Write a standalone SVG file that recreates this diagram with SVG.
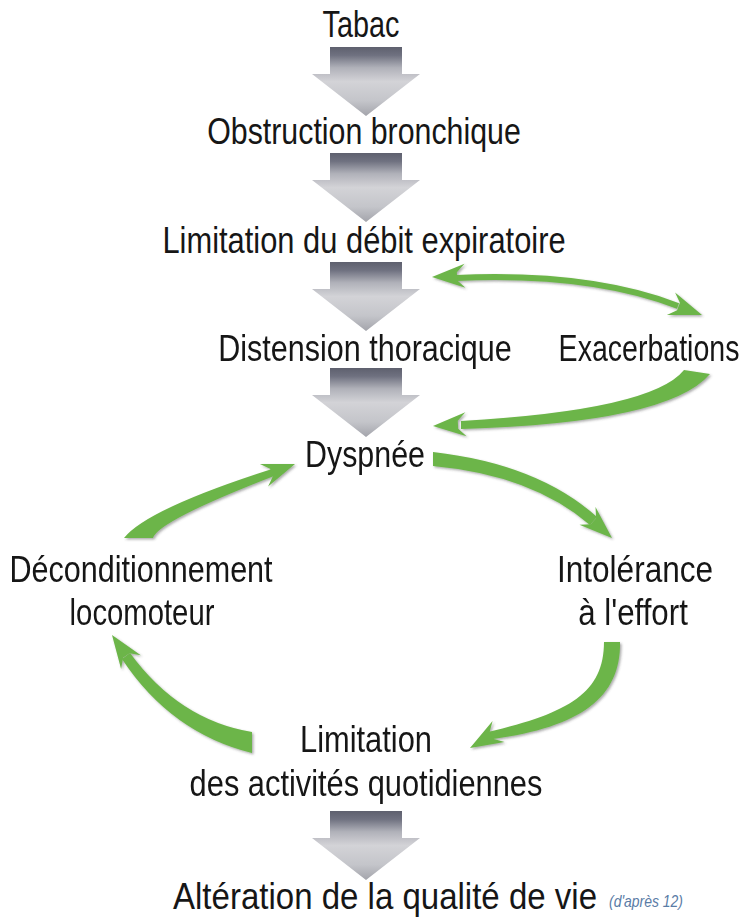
<svg xmlns="http://www.w3.org/2000/svg" xmlns:xlink="http://www.w3.org/1999/xlink" width="749" height="919" viewBox="0 0 749 919">
<style>
.t{font-family:"Liberation Sans",Arial,sans-serif;font-size:37px;fill:#161616;text-anchor:middle}
.g{fill:#6cb548}
.ref{font-family:"Liberation Sans",Arial,sans-serif;font-size:17px;font-style:italic;fill:#5a7ca6}
</style>
<defs>
<linearGradient id="gg" x1="0" y1="0" x2="0" y2="1">
<stop offset="0" stop-color="#5e606e"/>
<stop offset="0.12" stop-color="#6f7180"/>
<stop offset="0.3" stop-color="#b0b1b9"/>
<stop offset="0.5" stop-color="#d3d3d7"/>
<stop offset="0.78" stop-color="#c4c5ca"/>
<stop offset="1" stop-color="#a3a4ab"/>
</linearGradient>
<path id="ga" d="M-36,0 H36 V27 H54 L0,69 L-54,27 H-36 Z" fill="url(#gg)"/>
<path id="hd" d="M0,0 L-33,-12 L-25,-4 L-25,4 L-33,12 Z"/>
<filter id="sh" x="-10%" y="-10%" width="130%" height="130%">
<feDropShadow dx="1.5" dy="1.5" stdDeviation="1" flood-color="#444" flood-opacity="0.45"/>
</filter>
</defs>

<g id="flow-arrows">
<use href="#ga" x="366" y="47"/>
<use href="#ga" x="366" y="153"/>
<use href="#ga" x="366" y="262"/>
<use href="#ga" x="366" y="368"/>
<use href="#ga" x="366" y="811"/>
</g>

<g id="connectors" class="g" filter="url(#sh)">
<g id="c-double">
<path d="M456,278 Q590,272 678,306" fill="none" stroke="#6cb548" stroke-width="6"/>
<use href="#hd" transform="translate(432,277) rotate(178)"/>
<use href="#hd" transform="translate(702,315) rotate(20)"/>
</g>
<g id="c-exa-dys">
<path d="M684,370 Q652,410 461,421 L461,429 Q668,423 710,374 Z"/>
<use href="#hd" transform="translate(433,426) rotate(177)"/>
</g>
<g id="c-dys-int">
<path d="M433,452 Q538,464 597,517 L590,525 Q532,475 433,466 Z"/>
<use href="#hd" transform="translate(612,538) rotate(42)"/>
</g>
<g id="c-int-lim">
<path d="M620,642 C621,698 580,727 493,739 L488,732 C570,713 604,692 604,642 Z"/>
<use href="#hd" transform="translate(470,748) rotate(150)"/>
</g>
<g id="c-lim-dec">
<path d="M252,732 Q179,720 130,653 L122,659 Q171,733 252,753 Z"/>
<use href="#hd" transform="translate(112,635) rotate(-125)"/>
</g>
<g id="c-dec-dys">
<path d="M124,538 Q147,509 272,469 L274,476 Q158,521 153,538 Z"/>
<use href="#hd" transform="translate(295,464) rotate(-20)"/>
</g>
</g>

<g id="n-tabac"><text class="t" transform="translate(361,37) scale(0.8,1)" textLength="96" lengthAdjust="spacingAndGlyphs">Tabac</text></g>
<g id="n-obstruction"><text class="t" transform="translate(364,144) scale(0.8,1)" textLength="392" lengthAdjust="spacingAndGlyphs">Obstruction bronchique</text></g>
<g id="n-limitation-debit"><text class="t" transform="translate(364,253) scale(0.8,1)" textLength="504" lengthAdjust="spacingAndGlyphs">Limitation du débit expiratoire</text></g>
<g id="n-distension"><text class="t" transform="translate(365,361) scale(0.8,1)" textLength="367" lengthAdjust="spacingAndGlyphs">Distension thoracique</text></g>
<g id="n-exacerbations"><text class="t" transform="translate(649,361) scale(0.8,1)" textLength="226" lengthAdjust="spacingAndGlyphs">Exacerbations</text></g>
<g id="n-dyspnee"><text class="t" transform="translate(365,467) scale(0.8,1)" textLength="150" lengthAdjust="spacingAndGlyphs">Dyspnée</text></g>
<g id="n-deconditionnement">
<text class="t" transform="translate(141,582) scale(0.8,1)" textLength="329" lengthAdjust="spacingAndGlyphs">Déconditionnement</text>
<text class="t" transform="translate(142,625) scale(0.8,1)" textLength="181" lengthAdjust="spacingAndGlyphs">locomoteur</text>
</g>
<g id="n-intolerance">
<text class="t" transform="translate(635,582) scale(0.8,1)" textLength="195" lengthAdjust="spacingAndGlyphs">Intolérance</text>
<text class="t" transform="translate(633,625) scale(0.8,1)" textLength="137" lengthAdjust="spacingAndGlyphs">à l'effort</text>
</g>
<g id="n-limitation-activites">
<text class="t" transform="translate(366,752) scale(0.8,1)" textLength="165" lengthAdjust="spacingAndGlyphs">Limitation</text>
<text class="t" transform="translate(366,796) scale(0.8,1)" textLength="441" lengthAdjust="spacingAndGlyphs">des activités quotidiennes</text>
</g>
<g id="n-alteration">
<text class="t" transform="translate(385,909) scale(0.8,1)" textLength="530" lengthAdjust="spacingAndGlyphs">Altération de la qualité de vie</text>
<text class="ref" x="609" y="907" textLength="74" lengthAdjust="spacingAndGlyphs">(d'après 12)</text>
</g>
</svg>
